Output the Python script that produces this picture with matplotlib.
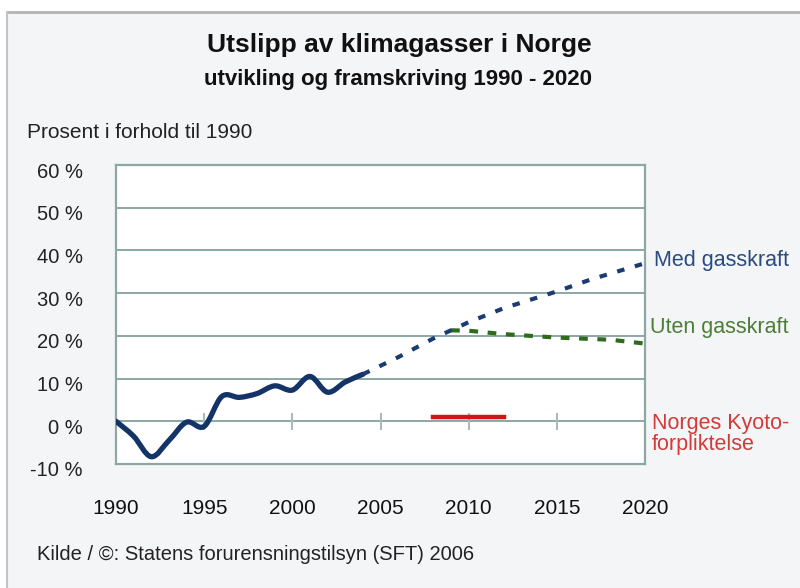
import matplotlib
matplotlib.use('Agg')
from matplotlib import pyplot as plt
from matplotlib.transforms import ScaledTranslation
from matplotlib.lines import Line2D
from matplotlib.path import Path
from matplotlib.patches import PathPatch

plt.rcParams['font.family'] = ['Liberation Sans', 'DejaVu Sans']

# historisk utslipp, prosent i forhold til 1990
hist_years = [1990, 1991, 1992, 1993, 1994, 1995, 1996, 1997, 1998, 1999,
              2000, 2001, 2002, 2003, 2004]
hist_vals = [0, -3.5, -8.3, -4.5, -0.2, -1.2, 5.8, 5.6, 6.5, 8.3,
             7.3, 10.5, 6.8, 9.2, 11.0]

# framskriving med gasskraft
med_years = [2004, 2006, 2008, 2010, 2012, 2015, 2017, 2020]
med_vals = [11.0, 15.0, 19.4, 23.2, 26.5, 30.4, 33.3, 37.0]

# framskriving uten gasskraft
uten_years = [2009, 2010, 2012, 2015, 2018, 2020]
uten_vals = [21.3, 21.2, 20.4, 19.6, 19.1, 18.2]

# Kyoto-forpliktelse 2008-2012
kyoto_years = [2008, 2012]
kyoto_vals = [1, 1]

y_ticks = [-10, 0, 10, 20, 30, 40, 50, 60]
y_labels = ['-10 %', '0 %', '10 %', '20 %', '30 %', '40 %', '50 %', '60 %']
x_ticks = [1990, 1995, 2000, 2005, 2010, 2015, 2020]
inner_ticks = [1995, 2000, 2005, 2010, 2015]

grid_col = '#8ca7a4'
bg = '#f4f5f7'


def smooth_path(xs, ys):
    # glatt linje som i Excel (Catmull-Rom som Bezier-kurver)
    pts = list(zip(xs, ys))
    verts = [pts[0]]
    codes = [Path.MOVETO]
    n = len(pts)
    for i in range(n - 1):
        p0 = pts[max(i - 1, 0)]
        p1 = pts[i]
        p2 = pts[i + 1]
        p3 = pts[min(i + 2, n - 1)]
        c1 = (p1[0] + (p2[0] - p0[0]) / 6, p1[1] + (p2[1] - p0[1]) / 6)
        c2 = (p2[0] - (p3[0] - p1[0]) / 6, p2[1] - (p3[1] - p1[1]) / 6)
        verts += [c1, c2, p2]
        codes += [Path.CURVE4] * 3
    return Path(verts, codes)


fig = plt.figure(figsize=(8, 5.88), dpi=100)
fig.patch.set_facecolor('white')

# grå ramme med lys bakgrunn
fig.add_artist(plt.Rectangle((7 / 800, 0), 1, 1 - 12 / 588, transform=fig.transFigure,
                             facecolor=bg, edgecolor='none', zorder=-5))
fig.add_artist(Line2D([7 / 800, 1], [1 - 12 / 588, 1 - 12 / 588], transform=fig.transFigure,
                      color='#b3b3b3', linewidth=2, zorder=-4))
fig.add_artist(Line2D([7 / 800, 7 / 800], [0, 1 - 12 / 588], transform=fig.transFigure,
                      color='#c4c4c4', linewidth=1.5, zorder=-4))

ax = fig.add_axes([116 / 800, 1 - 464 / 588, 529 / 800, 299 / 588])
ax.set_facecolor('white')
ax.set_xlim(1990, 2020)
ax.set_ylim(-10, 60)

for v in y_ticks[1:-1]:
    ax.axhline(v, color=grid_col, linewidth=1.4, zorder=1)
for s in ax.spines.values():
    s.set_color(grid_col)
    s.set_linewidth(1.6)

ax.vlines(inner_ticks, -2, 2, color='#a8bcb9', linewidth=1.5, zorder=1)

ax.add_patch(PathPatch(smooth_path(hist_years, hist_vals), facecolor='none',
                       edgecolor='#143468', linewidth=3.8, joinstyle='round',
                       capstyle='round', zorder=3))
ax.plot(med_years, med_vals, color='#1b3c73', linewidth=3.0,
        linestyle=(0, (1.8, 2.6)), zorder=3)
ax.plot(uten_years, uten_vals, color='#2f6b1c', linewidth=3.0,
        linestyle=(0, (2.1, 2.3)), zorder=2)
ax.plot(kyoto_years, kyoto_vals, color='#d01515', linewidth=3.2, zorder=3)

ax.set_yticks(y_ticks)
ax.set_yticklabels(y_labels, fontsize=14.5, color='#222222')
ax.set_xticks(x_ticks)
ax.set_xticklabels([str(x) for x in x_ticks], fontsize=15, color='#111111')
ax.tick_params(axis='both', length=0)
ax.tick_params(axis='y', pad=24)
ax.tick_params(axis='x', pad=25)
off = ScaledTranslation(0, -5 / 100, fig.dpi_scale_trans)
for lab in ax.get_yticklabels():
    lab.set_transform(lab.get_transform() + off)

# serienavn til høyre
ax.text(1.017, 0.682, 'Med gasskraft', transform=ax.transAxes, color='#2a4a80',
        fontsize=15.5, va='center', ha='left')
ax.text(1.01, 0.455, 'Uten gasskraft', transform=ax.transAxes, color='#4b7f37',
        fontsize=15.5, va='center', ha='left')
ax.text(1.013, 0.1, 'Norges Kyoto-\nforpliktelse', transform=ax.transAxes,
        color='#d43a3a', fontsize=15.5, va='center', ha='left', linespacing=1.0)

fig.text(399 / 800, 1 - 45 / 588, 'Utslipp av klimagasser i Norge', ha='center',
         va='center', fontsize=19, fontweight='bold', color='#111111')
fig.text(398 / 800, 1 - 80 / 588, 'utvikling og framskriving 1990 - 2020', ha='center',
         va='center', fontsize=16, fontweight='bold', color='#111111')
fig.text(27 / 800, 1 - 132 / 588, 'Prosent i forhold til 1990', ha='left',
         va='center', fontsize=15, color='#222222')
fig.text(37 / 800, 1 - 555 / 588, 'Kilde / ©: Statens forurensningstilsyn (SFT) 2006',
         ha='left', va='center', fontsize=14.5, color='#222222')

plt.savefig('out.png', dpi=100, facecolor=fig.get_facecolor())
